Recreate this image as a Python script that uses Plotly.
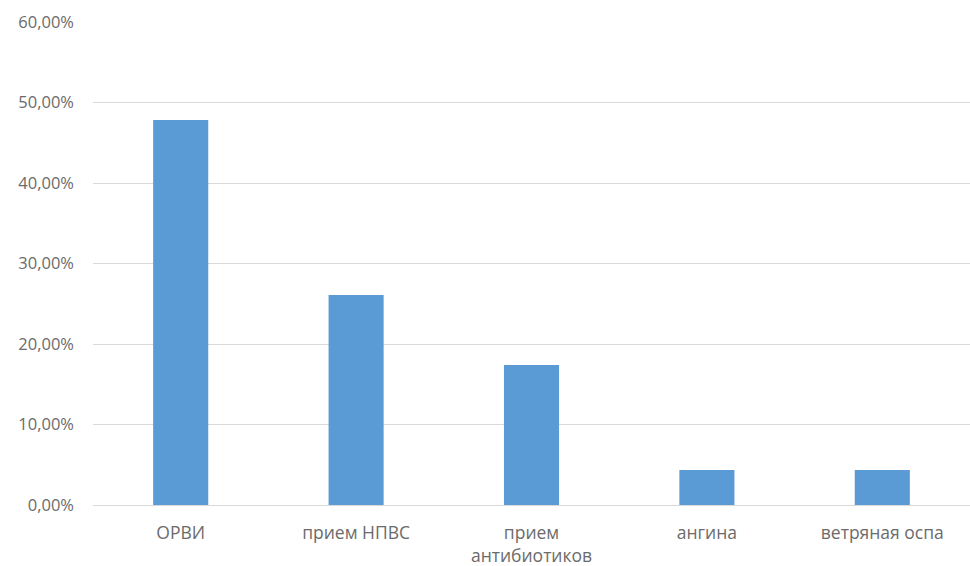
import plotly.graph_objects as go

categories = ["ОРВИ", "прием НПВС", "прием<br>антибиотиков", "ангина", "ветряная оспа"]
values = [0.4783, 0.2609, 0.1739, 0.0435, 0.0435]
y_ticks = [0, 0.1, 0.2, 0.3, 0.4, 0.5, 0.6]

fig = go.Figure(go.Bar(
    x=categories, y=values, marker=dict(color="#5b9bd5", line=dict(width=0)),
    width=0.314,
))

fig.update_layout(
    width=970, height=566,
    margin=dict(l=93, r=0, t=22, b=61),
    paper_bgcolor="white", plot_bgcolor="white",
    separators=", ",
    font=dict(family="Open Sans, Noto Sans, sans-serif", size=16, color="#6b6b6b"),
    showlegend=False,
)
fig.update_yaxes(
    range=[0, 0.6], tickvals=y_ticks, tickformat=".2%",
    showgrid=True, gridcolor="#d9d9d9", gridwidth=1,
    zeroline=False, showline=False, ticks="", ticklabelstandoff=18,
    tickfont=dict(size=16.5),
)
fig.update_xaxes(
    range=[-0.5, 4.5], showline=True, linecolor="#d9d9d9", linewidth=1,
    ticks="", ticklabelstandoff=12, tickfont=dict(size=17.5),
)

fig.write_html("out.html")
